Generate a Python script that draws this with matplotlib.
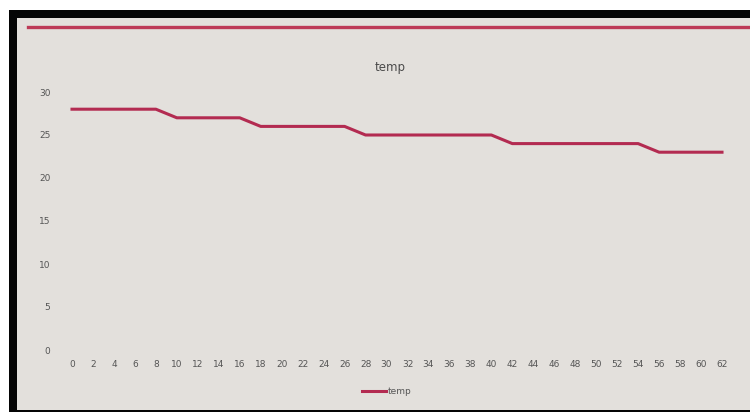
import matplotlib
matplotlib.use("Agg")
import matplotlib.pyplot as plt
from matplotlib.patches import Rectangle
from matplotlib.lines import Line2D

# Temperature series (every 2 minutes)
minutes = list(range(0, 64, 2))
temp = [28, 28, 28, 28, 28,
        27, 27, 27, 27,
        26, 26, 26, 26, 26,
        25, 25, 25, 25, 25, 25, 25,
        24, 24, 24, 24, 24, 24, 24,
        23, 23, 23, 23]
y_ticks = [0, 5, 10, 15, 20, 25, 30]

W, H = 750, 412
LINE_COLOR = "#b32b51"
BG = "#e3e0dc"
TEXT = "#555555"

fig = plt.figure(figsize=(W / 100, H / 100), dpi=100, facecolor="white")

def fx(px):
    return px / W

def fy(py):
    return 1 - py / H

# dark frame and light chart area
fig.patches.append(Rectangle((fx(9), 0), 1, fy(10), transform=fig.transFigure,
                             facecolor="#050505", edgecolor="none", zorder=-3))
fig.patches.append(Rectangle((fx(17), fy(410)), 1, fy(18) - fy(410),
                             transform=fig.transFigure, facecolor=BG,
                             edgecolor="none", zorder=-2))
# accent rule along the top
fig.lines.append(Line2D([fx(28), 1.0], [fy(27), fy(27)], transform=fig.transFigure,
                        color="#bd3a57", linewidth=2.4, zorder=-1))

step = 650 / 31
left_px = 72 - 0.5 * step
right_px = 722 + 0.5 * step
ax = fig.add_axes([fx(left_px), fy(350), fx(right_px - left_px), fy(92) - fy(350)])
ax.set_facecolor("none")
ax.set_zorder(5)

x = list(range(len(minutes)))
ax.plot(x, temp, color=LINE_COLOR, linewidth=2.2, solid_joinstyle="round",
        label="temp", zorder=3)

ax.set_xlim(-0.5, len(minutes) - 0.5)
ax.set_ylim(0, 30)
ax.set_xticks(x)
ax.set_xticklabels([str(m) for m in minutes])
ax.set_yticks(y_ticks)
for s in ax.spines.values():
    s.set_visible(False)
ax.tick_params(axis="both", length=0, labelsize=6.5, labelcolor=TEXT)
ax.tick_params(axis="x", pad=7)
ax.tick_params(axis="y", pad=8)

fig.text(fx(390), fy(68), "temp", ha="center", va="center",
         fontsize=8.5, color="#4a4a4a")

leg = ax.legend(loc="center", bbox_to_anchor=(fx(387), fy(392)),
                bbox_transform=fig.transFigure, frameon=False, fontsize=6.5,
                handlelength=2.6, handletextpad=0.2, borderpad=0)
for t in leg.get_texts():
    t.set_color(TEXT)

fig.savefig("out.png", dpi=100, facecolor="white")
